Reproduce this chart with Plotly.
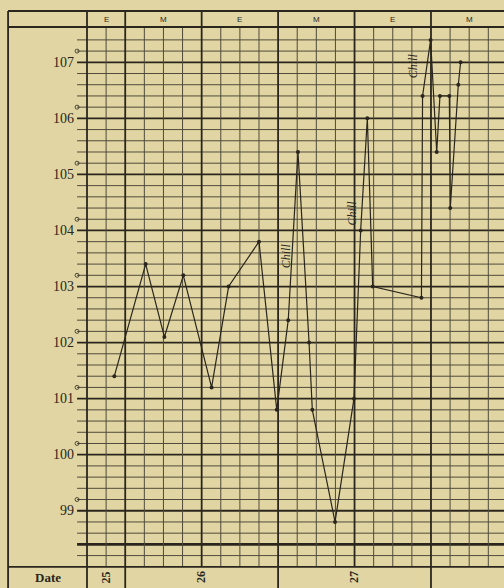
import numpy as np
import plotly.graph_objects as go

# ---------------- data ----------------
# observation position, in grid sub-columns from the left edge of the grid
obs_slot = [1.43, 3.07, 4.05, 5.04, 6.52, 7.41, 9.00, 9.93, 10.53, 11.04,
            11.62, 11.79, 12.98, 13.97, 14.32, 14.67, 14.95, 17.50, 17.56,
            17.98, 18.30, 18.47, 18.96, 19.01, 19.43, 19.55]
# temperature (deg F)
obs_temp = [101.4, 103.4, 102.1, 103.2, 101.2, 103.0, 103.8, 100.8, 102.4, 105.4,
            102.0, 100.8, 98.8, 101.0, 104.0, 106.0, 103.0, 102.8, 106.4,
            107.4, 105.4, 106.4, 106.4, 104.4, 106.6, 107.0]

degree_values = [99, 100, 101, 102, 103, 104, 105, 106, 107]
degree_labels = ["99", "100", "101", "102", "103", "104", "105", "106", "107"]

period_labels = ["E", "M", "E", "M", "E", "M"]
period_bounds = [0, 2, 6, 10, 14, 18, 22]

date_labels = ["25", "26", "27"]
date_bounds = [0, 2, 10, 18, 22]

chill_slot = [10.39, 13.89, 17.06]
chill_temp = [103.55, 104.31, 106.93]

# ---------------- structure ----------------
X_MIN, X_MAX = -4.5526, 21.821
Y_MIN, Y_MAX = 97.6218, 108.1115
LEFT_EDGE = -4.13
TICK_LEFT = -0.52
HEADER_TOP = 107.915
HEADER_BOTTOM = 107.63
GRID_BOTTOM = 98.0
FOOT_BOTTOM = Y_MIN - 0.1

BG = "#E1D6A3"
INK = "#2a261d"
THIN = "#504a3a"

shapes = []


def hline(y, x0, x1, w, c=INK):
    shapes.append(dict(type="line", xref="x", yref="y", x0=x0, x1=x1, y0=y, y1=y,
                       line=dict(color=c, width=w), layer="below"))


def vline(x, y0, y1, w, c=INK):
    shapes.append(dict(type="line", xref="x", yref="y", x0=x, x1=x, y0=y0, y1=y1,
                       line=dict(color=c, width=w), layer="below"))


# horizontal grid lines every 0.2 deg
for k in range(1, 48):
    y = round(98.0 + 0.2 * k, 1)
    if abs(y - round(y)) < 1e-6:
        hline(y, TICK_LEFT, X_MAX + 1, 1.8)
    elif abs(y - 98.4) < 1e-6:
        hline(y, TICK_LEFT, X_MAX + 1, 2.6)
    else:
        hline(y, TICK_LEFT, X_MAX + 1, 1.0, THIN)

# vertical grid lines
for s in range(0, 23):
    if s in period_bounds:
        vline(s, GRID_BOTTOM, HEADER_TOP, 1.8)
    else:
        vline(s, GRID_BOTTOM, HEADER_BOTTOM, 1.0, THIN)

# frame
hline(HEADER_TOP, LEFT_EDGE, X_MAX + 1, 1.8)
hline(HEADER_BOTTOM, LEFT_EDGE, X_MAX + 1, 1.8)
hline(GRID_BOTTOM, LEFT_EDGE, X_MAX + 1, 1.8)
vline(LEFT_EDGE, FOOT_BOTTOM, HEADER_TOP, 1.8)
for b in date_bounds[:-1]:
    vline(b, FOOT_BOTTOM, GRID_BOTTOM, 1.8)

fig = go.Figure()

fig.add_trace(go.Scatter(
    x=obs_slot, y=obs_temp, mode="lines+markers",
    line=dict(color=INK, width=1.2),
    marker=dict(color=INK, size=4),
    hoverinfo="skip", showlegend=False))

# degree circles
fig.add_trace(go.Scatter(
    x=[TICK_LEFT] * len(degree_values), y=[d + 0.2 for d in degree_values],
    mode="markers",
    marker=dict(symbol="circle-open", size=4, color=INK, line=dict(width=0.8)),
    hoverinfo="skip", showlegend=False))

annotations = []
for d, lab in zip(degree_values, degree_labels):
    annotations.append(dict(x=TICK_LEFT - 0.05, y=d, text=lab, showarrow=False,
                            xanchor="right", yanchor="middle",
                            font=dict(family="Liberation Serif", size=14, color=INK)))

for i, lab in enumerate(period_labels):
    xc = (period_bounds[i] + period_bounds[i + 1]) / 2
    annotations.append(dict(x=xc, y=(HEADER_TOP + HEADER_BOTTOM) / 2, text=lab,
                            showarrow=False, yanchor="middle",
                            font=dict(family="Liberation Sans", size=8, color=INK)))

for i, lab in enumerate(date_labels):
    xc = (date_bounds[i] + date_bounds[i + 1]) / 2
    annotations.append(dict(x=xc, y=(GRID_BOTTOM + Y_MIN) / 2, text="<b>" + lab + "</b>",
                            showarrow=False, textangle=-90, yanchor="middle",
                            font=dict(family="Liberation Serif", size=12, color=INK)))

annotations.append(dict(x=(LEFT_EDGE + 0) / 2, y=(GRID_BOTTOM + Y_MIN) / 2,
                        text="<b>Date</b>", showarrow=False, yanchor="middle",
                        font=dict(family="Liberation Serif", size=13, color=INK)))

for cx, cy in zip(chill_slot, chill_temp):
    annotations.append(dict(x=cx, y=cy, text="<i>Chill</i>", showarrow=False,
                            textangle=-90,
                            font=dict(family="Liberation Serif", size=12, color=INK)))

fig.update_layout(
    width=504, height=588,
    margin=dict(l=0, r=0, t=0, b=0),
    paper_bgcolor=BG, plot_bgcolor=BG,
    xaxis=dict(range=[X_MIN, X_MAX], visible=False, fixedrange=True),
    yaxis=dict(range=[Y_MIN, Y_MAX], visible=False, fixedrange=True),
    shapes=shapes, annotations=annotations,
    showlegend=False,
)

fig.write_html("out.html",
               config={"displayModeBar": False},
               post_script="document.body.style.margin='0px';"
                           "document.body.style.background='" + BG + "';")
